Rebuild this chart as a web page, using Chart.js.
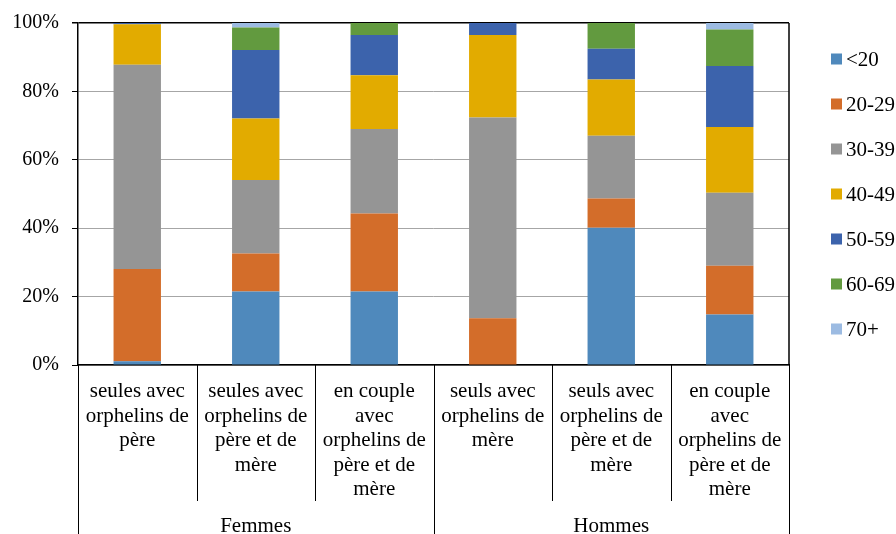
<!DOCTYPE html>
<html lang="fr">
<head>
<meta charset="utf-8">
<script src="https://cdn.jsdelivr.net/npm/chart.js@4.4.1/dist/chart.umd.min.js"></script>
<style>
  html, body { margin: 0; padding: 0; background: #fff; }
  #wrap { width: 896px; height: 534px; }
</style>
</head>
<body>
<div id="wrap"><canvas id="chart" width="896" height="534"></canvas></div>
<script>
/* ── Orphelins — répartition par âge (100 % empilé) ─────── */

// ── Data ─────────────────────────────────────────────────
const categories = [
    ['seules avec', 'orphelins de', 'père'],
    ['seules avec', 'orphelins de', 'père et de', 'mère'],
    ['en couple', 'avec', 'orphelins de', 'père et de', 'mère'],
    ['seuls avec', 'orphelins de', 'mère'],
    ['seuls avec', 'orphelins de', 'père et de', 'mère'],
    ['en couple', 'avec', 'orphelins de', 'père et de', 'mère']
];
const groups     = ['Femmes', 'Hommes'];
const groupSizes = [3, 3];

const ageGroups = ['<20', '20-29', '30-39', '40-49', '50-59', '60-69', '70+'];
const ageUnder20 = [1.1, 21.5, 21.5,  0.0, 40.1, 14.8];
const age20_29   = [27.0, 11.1, 22.8, 13.7,  8.6, 14.2];
const age30_39   = [59.7, 21.5, 24.7, 58.7, 18.3, 21.4];
const age40_49   = [11.8, 18.0, 15.7, 24.1, 16.5, 19.2];
const age50_59   = [ 0.4, 20.0, 11.8,  3.5,  9.0, 17.8];
const age60_69   = [ 0.0,  6.6,  3.5,  0.0,  7.5, 10.7];
const age70plus  = [ 0.0,  1.3,  0.0,  0.0,  0.0,  1.9];

const yTickValues = [0, 20, 40, 60, 80, 100];

// ── Style ────────────────────────────────────────────────
const SERIF   = "'Liberation Serif', 'Times New Roman', serif";
const colours = ['#4f89bc', '#d36d2a', '#959595', '#e2ab00', '#3c63ac', '#629a3f', '#9cbbe2'];
const series  = [ageUnder20, age20_29, age30_39, age40_49, age50_59, age60_69, age70plus];

// ── Plugin: group row, separators, right frame, legend ───
const decorations = {
    id: 'decorations',
    afterDraw(chart) {
        const { ctx, chartArea: a, scales: { x } } = chart;
        const H = chart.height;
        const n = categories.length;
        const step = (a.right - a.left) / n;

        ctx.save();
        ctx.strokeStyle = '#000';

        // right frame
        ctx.lineWidth = 1.5;
        ctx.beginPath();
        ctx.moveTo(a.right, a.top);
        ctx.lineTo(a.right, a.bottom);
        ctx.stroke();

        // category separators (long ones between groups)
        const groupEdges = [0];
        groupSizes.reduce((acc, g) => { groupEdges.push(acc + g); return acc + g; }, 0);
        ctx.lineWidth = 1;
        for (let k = 0; k <= n; k++) {
            const px = Math.round(a.left + k * step) + 0.5;
            const long = groupEdges.includes(k);
            ctx.beginPath();
            ctx.moveTo(px, a.bottom);
            ctx.lineTo(px, long ? H : a.bottom + 136);
            ctx.stroke();
        }

        // group labels
        ctx.fillStyle = '#000';
        ctx.font = '21px ' + SERIF;
        ctx.textAlign = 'center';
        ctx.textBaseline = 'middle';
        groups.forEach((g, i) => {
            const from = x.getPixelForValue(groupEdges[i]) - step / 2;
            const to   = x.getPixelForValue(groupEdges[i + 1] - 1) + step / 2;
            ctx.fillText(g, (from + to) / 2, a.bottom + 161);
        });

        // legend
        const mid = (a.top + a.bottom) / 2;
        ctx.textAlign = 'left';
        chart.data.datasets.forEach((ds, i) => {
            const cy = mid + (i - (chart.data.datasets.length - 1) / 2) * 45;
            ctx.fillStyle = ds.backgroundColor;
            ctx.fillRect(831, cy - 5.5, 11, 11);
            ctx.fillStyle = '#000';
            ctx.fillText(ds.label, 846, cy + 1);
        });
        ctx.restore();
    }
};

// ── Chart ────────────────────────────────────────────────
new Chart(document.getElementById('chart'), {
    type: 'bar',
    data: {
        labels: categories,
        datasets: ageGroups.map((name, i) => ({
            label: name,
            data: series[i],
            backgroundColor: colours[i],
            borderWidth: 0,
            barPercentage: 0.4,
            categoryPercentage: 1
        }))
    },
    options: {
        responsive: false,
        animation: false,
        devicePixelRatio: 1,
        layout: { padding: { top: 23, right: 107, bottom: 0, left: 0 } },
        plugins: { legend: { display: false }, tooltip: { enabled: false } },
        scales: {
            x: {
                stacked: true,
                afterFit: s => { s.height = 169; },
                grid: { display: false, drawTicks: false, tickLength: 0 },
                border: { display: true, color: '#000', width: 1.5 },
                ticks: {
                    autoSkip: false, maxRotation: 0, minRotation: 0,
                    padding: 14.5, color: '#000',
                    font: { family: SERIF, size: 21, lineHeight: 1.1667 }
                }
            },
            y: {
                stacked: true,
                min: 0, max: 100,
                afterFit: s => { s.width = 78; },
                afterBuildTicks: s => { s.ticks = yTickValues.map(v => ({ value: v })); },
                grid: {
                    color: c => (c.tick && c.tick.value === 100) ? '#000' : '#a6a6a6',
                    lineWidth: c => (c.tick && c.tick.value === 100) ? 1.5 : 1,
                    tickColor: '#000',
                    tickLength: 6
                },
                border: { display: true, color: '#000', width: 1.5 },
                ticks: {
                    padding: 13, color: '#000',
                    font: { family: SERIF, size: 20, lineHeight: 1 },
                    callback: v => v + '%'
                }
            }
        }
    },
    plugins: [decorations]
});
</script>
</body>
</html>
